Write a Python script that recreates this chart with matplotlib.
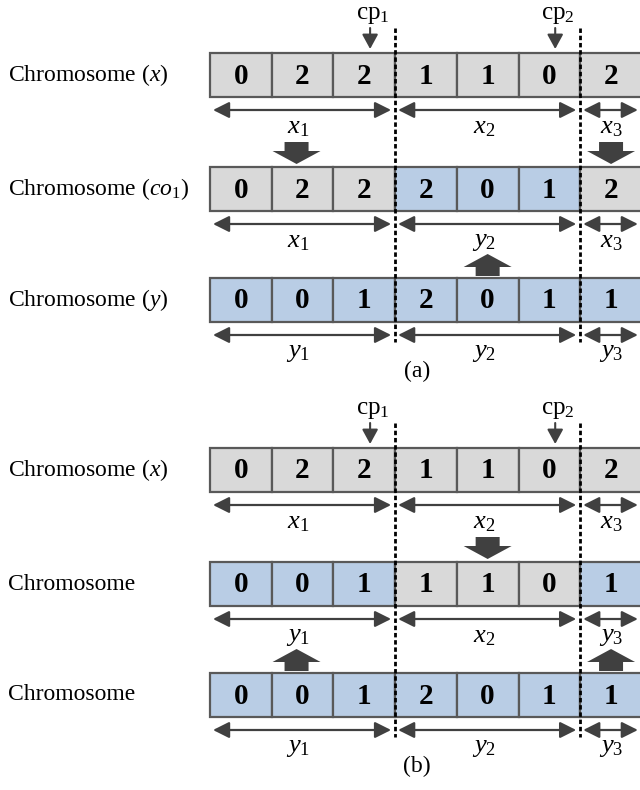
import numpy as np
import matplotlib
matplotlib.use('Agg')
import matplotlib.pyplot as plt
from matplotlib.patches import Rectangle, FancyArrow

plt.rcParams['font.family'] = 'Liberation Serif'
plt.rcParams['mathtext.fontset'] = 'custom'
plt.rcParams['mathtext.rm'] = 'Liberation Serif'
plt.rcParams['mathtext.it'] = 'Liberation Serif:italic'
plt.rcParams['mathtext.bf'] = 'Liberation Serif:bold'

# genes of each chromosome, panel (a) and panel (b)
genes_a = [[0, 2, 2, 1, 1, 0, 2],
           [0, 2, 2, 2, 0, 1, 2],
           [0, 0, 1, 2, 0, 1, 1]]
genes_b = [[0, 2, 2, 1, 1, 0, 2],
           [0, 0, 1, 1, 1, 0, 1],
           [0, 0, 1, 2, 0, 1, 1]]
# parent of each segment
parent_a = [['x', 'x', 'x'], ['x', 'y', 'x'], ['y', 'y', 'y']]
parent_b = [['x', 'x', 'x'], ['y', 'x', 'y'], ['y', 'y', 'y']]
row_names_a = [r'Chromosome ($x$)', r'Chromosome ($co_1$)', r'Chromosome ($y$)']
row_names_b = [r'Chromosome ($x$)', 'Chromosome', 'Chromosome']
cut_points = [3, 6]
cut_names = [r'$\mathrm{cp}_1$', r'$\mathrm{cp}_2$']
# thick arrows: (lower row, segment, direction)
moves_a = [(1, 0, 'down'), (1, 2, 'down'), (2, 1, 'up')]
moves_b = [(1, 1, 'down'), (2, 0, 'up'), (2, 2, 'up')]
panel_tags = ['(a)', '(b)']

panels = [(genes_a, parent_a, row_names_a, moves_a),
          (genes_b, parent_b, row_names_b, moves_b)]

colors = {'x': '#d9d9d9', 'y': '#b9cde5'}
edge = '#595959'
dark = '#404040'

# layout (pixel units)
x0, cw, ch = 210, 61.7, 44
panel_top = [0, 395]
row_y = [75, 189, 300]

fig = plt.figure(figsize=(6.4, 7.9), dpi=100)
ax = fig.add_axes([0, 0, 1, 1])
ax.set_xlim(0, 640)
ax.set_ylim(790, 0)
ax.axis('off')

bounds = [0] + cut_points + [7]

for p, (genes, parents, names, moves) in enumerate(panels):
    top = panel_top[p]
    for r in range(3):
        cy = top + row_y[r]
        ax.text(8, cy, names[r], fontsize=17, ha='left', va='center')
        for i, g in enumerate(genes[r]):
            seg = np.searchsorted(cut_points, i, side='right')
            ax.add_patch(Rectangle((x0 + i * cw, cy - ch / 2), cw, ch,
                                   facecolor=colors[parents[r][seg]],
                                   edgecolor=edge, lw=1.6, zorder=2))
            ax.text(x0 + (i + 0.5) * cw, cy + 1, str(g), fontsize=21,
                    fontweight='bold', ha='center', va='center', zorder=3)
        # segment spans
        for s in range(3):
            xa = x0 + bounds[s] * cw + 3
            xb = min(x0 + bounds[s + 1] * cw - 4, 641)
            ay = cy + 35
            ax.annotate('', xy=(xb, ay), xytext=(xa, ay),
                        arrowprops=dict(arrowstyle='<|-|>,head_length=0.7,head_width=0.35',
                                        mutation_scale=14, color=dark, lw=1.6,
                                        shrinkA=0, shrinkB=0))
            xc = x0 + (bounds[s] + bounds[s + 1]) / 2 * cw - 4
            if s == 2:
                xc = x0 + (bounds[s] + bounds[s + 1]) / 2 * cw
            ax.text(xc, cy + 53, f'${parents[r][s]}_{s + 1}$', fontsize=19,
                    ha='center', va='center')
    # thick arrows
    for r, s, d in moves:
        cy = top + row_y[r]
        xc = x0 + (bounds[s] + bounds[s + 1]) / 2 * cw - (6 if s == 0 else 0)
        if d == 'down':
            ys, dy = cy - 47, 22
        else:
            ys, dy = cy - 24, -22
        ax.add_patch(FancyArrow(xc, ys, 0, dy, width=24, head_width=48,
                                head_length=13, length_includes_head=True,
                                color=dark, lw=0, zorder=4))
    # cut points
    for k, c in enumerate(cut_points):
        bx = x0 + c * cw
        ax.plot([bx, bx], [top + 28, top + 342], color='black', lw=2,
                ls=(0, (1.6, 1.0)), zorder=5)
        ax.text(bx - 22, top + 15, cut_names[k], fontsize=18, ha='center',
                va='center')
        ax.annotate('', xy=(bx - 25, top + 49), xytext=(bx - 25, top + 28),
                    arrowprops=dict(arrowstyle='-|>,head_length=0.55,head_width=0.3',
                                    mutation_scale=16, color=dark, lw=1.5,
                                    shrinkA=0, shrinkB=0))
    ax.text(417, top + 371, panel_tags[p], fontsize=17, ha='center', va='center')

fig.savefig('out.png', dpi=100)
